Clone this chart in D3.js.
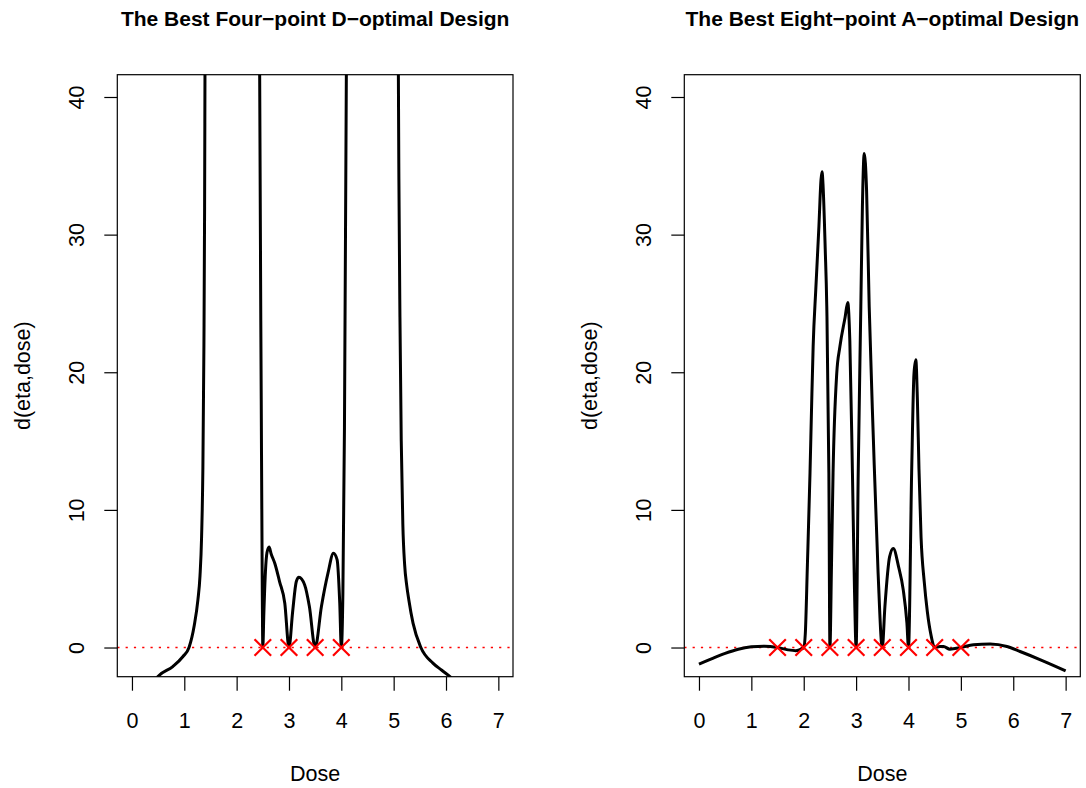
<!DOCTYPE html>
<html>
<head>
<meta charset="utf-8">
<script src="https://cdn.jsdelivr.net/npm/d3@7"></script>
<style>
  body { margin: 0; background: #fff; }
  svg { display: block; font-family: "Liberation Sans", Arial, Helvetica, sans-serif; }
</style>
</head>
<body>
<svg id="canvas" width="1086" height="788"></svg>
<script>
// axis settings
const doseTicks = [0, 1, 2, 3, 4, 5, 6, 7];
const etaTicks = [0, 10, 20, 30, 40];
const doseLim = [0, 7];
const etaLim = [-0.5, 40];

// left panel: four-point D-optimal design
const leftTitle = "The Best Four\u2212point D\u2212optimal Design";
const leftDesign = [2.5, 3, 3.5, 4];
const leftBranchA = [[0.4, -2.6], [0.497, -2.1], [0.78, -1.38], [0.975, -0.65], [1.09, 0], [1.19, 1.6],
  [1.26, 3.46], [1.3, 5.2], [1.33, 8], [1.355, 13], [1.375, 22], [1.388, 32], [1.395, 41.6], [1.405, 55]];
const leftBranchB = [[2.43, 55], [2.44, 41.6], [2.47, 18], [2.49, 4], [2.5, 0], [2.52, 2.5], [2.55, 5.5],
  [2.58, 6.9], [2.62, 7.3], [2.66, 6.8], [2.73, 6.1], [2.82, 4.79], [2.92, 3.22], [3.0, 0], [3.07, 2.6],
  [3.14, 4.8], [3.19, 5.11], [3.3, 4.55], [3.39, 2.98], [3.5, 0], [3.62, 2.98], [3.745, 5.4], [3.85, 6.85],
  [3.92, 6.37], [3.97, 3.22], [4.0, 0], [4.03, 4], [4.06, 16], [4.096, 41.6], [4.11, 55]];
const leftBranchC = [[5.08, 55], [5.09, 41.6], [5.1, 34], [5.12, 24], [5.145, 15], [5.175, 9], [5.21, 6],
  [5.25, 4.5], [5.29, 3.46], [5.37, 1.77], [5.52, 0], [5.75, -1.13], [5.92, -1.65], [6.07, -2.1], [6.2, -2.55]];

// right panel: eight-point A-optimal design
const rightTitle = "The Best Eight\u2212point A\u2212optimal Design";
const rightDesign = [1.5, 2, 2.5, 3, 3.5, 4, 4.5, 5];
const rightCurve = [[0, -1.21], [0.25, -0.8], [0.5, -0.42], [0.75, -0.12], [1.0, 0.05], [1.25, 0.1], [1.5, 0],
  [1.7, -0.17], [1.85, -0.23], [1.95, -0.12], [2.0, 0], [2.03, 1.0], [2.07, 6], [2.12, 12.7], [2.15, 17.5],
  [2.18, 21.9], [2.23, 26], [2.29, 30.6], [2.33, 34], [2.35, 34.56], [2.37, 33.5], [2.41, 29], [2.44, 24.8],
  [2.48, 12.7], [2.5, 0], [2.53, 6], [2.56, 12.7], [2.63, 19.9], [2.69, 21.85], [2.79, 24.0], [2.84, 25.07],
  [2.88, 22.3], [2.93, 12.66], [2.97, 4], [3.0, 0], [3.04, 12.66], [3.09, 24.75], [3.12, 32.0], [3.155, 35.9],
  [3.2, 33.2], [3.25, 24.75], [3.33, 15.1], [3.42, 5.4], [3.5, 0], [3.55, 2.98], [3.64, 6.6], [3.71, 7.2],
  [3.81, 5.88], [3.9, 4.19], [3.97, 1.77], [4.0, 0], [4.06, 12.66], [4.105, 19.9], [4.14, 20.9], [4.17, 18],
  [4.2, 13], [4.24, 8], [4.3, 4.8], [4.36, 2.6], [4.43, 0.9], [4.5, 0], [4.6, 0.07], [4.67, 0.07], [4.79, -0.12],
  [5.0, 0], [5.24, 0.2], [5.56, 0.25], [5.88, 0.07], [6.13, -0.29], [6.52, -0.89], [7.0, -1.69]];

const svg = d3.select("#canvas");

/* R style axis limits: 4% padding on each side */
function padded(lim) {
  const d = (lim[1] - lim[0]) * 0.04;
  return [lim[0] - d, lim[1] + d];
}

function drawPanel(p) {
  const x = d3.scaleLinear().domain(padded(doseLim)).range([p.left, p.right]);
  const y = d3.scaleLinear().domain(padded(etaLim)).range([p.bottom, p.top]);
  const g = svg.append("g");

  g.append("clipPath").attr("id", p.id)
    .append("rect")
    .attr("x", p.left).attr("y", p.top)
    .attr("width", p.right - p.left).attr("height", p.bottom - p.top);

  // red dotted reference at zero
  g.append("line")
    .attr("x1", p.left).attr("x2", p.right)
    .attr("y1", y(0)).attr("y2", y(0))
    .style("stroke", "#ff0000")
    .style("stroke-width", 1.4)
    .style("stroke-dasharray", "2.2,6.1");

  const line = d3.line()
    .x(d => x(d[0]))
    .y(d => y(d[1]))
    .curve(d3.curveMonotoneX);

  g.append("g").attr("clip-path", `url(#${p.id})`)
    .selectAll("path")
    .data(p.branches)
    .enter()
    .append("path")
    .attr("d", line)
    .attr("fill", "none")
    .attr("stroke", "#000")
    .attr("stroke-width", 3)
    .attr("stroke-linejoin", "round");

  // design points as crosses
  const s = 8.3;
  g.append("g").selectAll("path")
    .data(p.design)
    .enter()
    .append("path")
    .attr("d", d => {
      const cx = x(d), cy = y(0);
      return `M${cx - s},${cy - s}L${cx + s},${cy + s}M${cx - s},${cy + s}L${cx + s},${cy - s}`;
    })
    .attr("stroke", "#ff0000")
    .attr("stroke-width", 2.2)
    .attr("fill", "none");

  // box
  g.append("rect")
    .attr("x", p.left).attr("y", p.top)
    .attr("width", p.right - p.left).attr("height", p.bottom - p.top)
    .attr("fill", "none")
    .attr("stroke", "#000")
    .attr("stroke-width", 1.2);

  // axes
  const xAxis = g.append("g")
    .attr("transform", `translate(0,${p.bottom})`)
    .call(d3.axisBottom(x).tickValues(doseTicks).tickFormat(d3.format("d")).tickSize(14).tickPadding(22));
  const yAxis = g.append("g")
    .attr("transform", `translate(${p.left},0)`)
    .call(d3.axisLeft(y).tickValues(etaTicks).tickFormat(d3.format("d")).tickSize(13));

  [xAxis, yAxis].forEach(a => {
    a.select(".domain").remove();
    a.selectAll(".tick line").attr("stroke", "#000").attr("stroke-width", 1.2);
    a.selectAll("text").attr("fill", "#000").style("font-size", "21.5px").attr("font-family", null);
  });
  yAxis.selectAll("text")
    .attr("x", 0).attr("dy", 0)
    .attr("text-anchor", "middle")
    .attr("transform", "translate(-33.3,0) rotate(-90)");

  // titles and labels
  const cx = (p.left + p.right) / 2;
  g.append("text")
    .attr("x", cx).attr("y", 26)
    .attr("text-anchor", "middle")
    .style("font-size", "21px")
    .style("font-weight", "bold")
    .text(p.title);
  g.append("text")
    .attr("x", cx).attr("y", 781)
    .attr("text-anchor", "middle")
    .style("font-size", "21.5px")
    .text("Dose");
  g.append("text")
    .attr("transform", `translate(${p.left - 87},${(p.top + p.bottom) / 2}) rotate(-90)`)
    .attr("text-anchor", "middle")
    .style("font-size", "21.5px")
    .text("d(eta,dose)");
}

drawPanel({
  id: "clipL", left: 117.3, right: 513, top: 74.7, bottom: 676.7,
  title: leftTitle, design: leftDesign, branches: [leftBranchA, leftBranchB, leftBranchC]
});
drawPanel({
  id: "clipR", left: 684.3, right: 1080.3, top: 74.7, bottom: 676.7,
  title: rightTitle, design: rightDesign, branches: [rightCurve]
});
</script>
</body>
</html>
